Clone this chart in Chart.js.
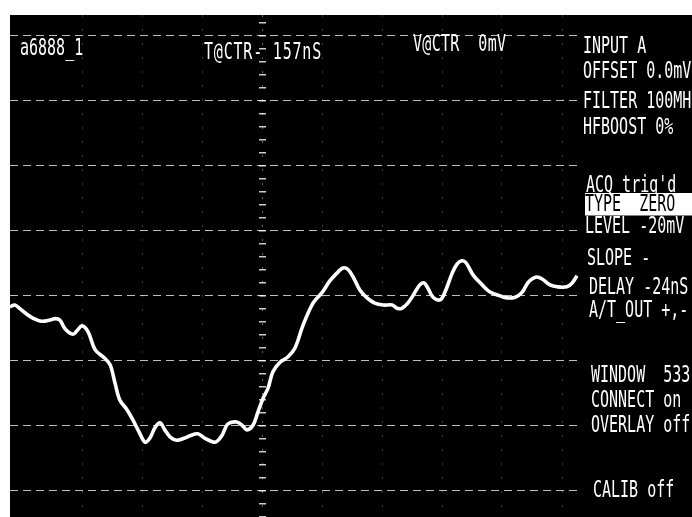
<!DOCTYPE html>
<html>
<head>
<meta charset="utf-8">
<script src="https://cdn.jsdelivr.net/npm/chart.js@4.4.1/dist/chart.umd.min.js"></script>
<style>
  html, body { margin:0; padding:0; background:#fff; width:692px; height:517px; overflow:hidden; }
  #screen { position:absolute; left:10px; top:15px; width:682px; height:502px; background:#000; overflow:hidden; }
  #plot { position:absolute; left:0; top:0; }
  .t { position:absolute; color:#fff; font-family:"DejaVu Sans Mono", monospace; font-size:15px; line-height:15px;
       white-space:pre; transform:scaleY(1.5); transform-origin:0 0; }
  .inv { background:#fff; color:#000; }
</style>
</head>
<body>
<div id="screen">
  <canvas id="plot" width="570" height="502"></canvas>
</div>
<script>
// Waveform (time in horizontal divisions from TCTR, amplitude in vertical divisions)
const timeDiv = [-4.20,-4.12,-4.03,-3.95,-3.82,-3.67,-3.53,-3.45,-3.37,-3.28,-3.15,-3.07,-3.00,-2.90,-2.78,-2.62,-2.53,-2.45,-2.37,-2.25,
  -2.15,-2.05,-1.95,-1.87,-1.78,-1.70,-1.62,-1.53,-1.42,-1.30,-1.20,-1.07,-0.95,-0.78,-0.67,-0.57,-0.42,-0.32,-0.25,-0.15,
  -0.07,0.02,0.10,0.18,0.30,0.43,0.55,0.68,0.85,1.00,1.13,1.27,1.35,1.43,1.52,1.63,1.75,1.88,2.02,2.17,
  2.25,2.33,2.43,2.52,2.63,2.70,2.77,2.85,2.97,3.05,3.17,3.25,3.33,3.40,3.52,3.67,3.80,3.97,4.08,4.22,
  4.33,4.43,4.50,4.58,4.67,4.80,4.92,5.08,5.17,5.25];
const voltDiv = [-0.18,-0.15,-0.21,-0.27,-0.35,-0.40,-0.38,-0.36,-0.38,-0.52,-0.60,-0.53,-0.47,-0.56,-0.84,-0.97,-1.07,-1.35,-1.61,-1.76,
  -1.92,-2.10,-2.26,-2.20,-2.03,-1.96,-2.07,-2.18,-2.23,-2.20,-2.16,-2.13,-2.20,-2.26,-2.16,-1.98,-1.95,-2.01,-2.07,-2.00,
  -1.80,-1.58,-1.43,-1.18,-1.03,-0.95,-0.81,-0.47,-0.12,0.04,0.22,0.36,0.42,0.40,0.28,0.08,-0.04,-0.12,-0.15,-0.15,
  -0.20,-0.20,-0.12,0.00,0.16,0.19,0.10,-0.03,-0.07,0.05,0.34,0.48,0.53,0.50,0.31,0.16,0.05,-0.01,-0.04,-0.03,
  0.04,0.19,0.25,0.28,0.25,0.16,0.13,0.13,0.19,0.30];

// Axis extents (divisions) and graticule
const xRange = [-4.2, 5.3];
const yRange = [-3.41, 4.31];
const xGridDivs = [-3, -2, -1, 0, 1, 2, 3, 4, 5];
const yGridDivs = [-3, -2, -1, 0, 1, 2, 3, 4];
const centerMinorStep = 0.2;

// Screen annotations
const headerTexts = ["a6888_1", "T@CTR- 157nS", "V@CTR  0mV"];
const sideTexts = ["INPUT A", "OFFSET 0.0mV", "FILTER 100MHz", "HFBOOST 0%", "ACQ trig'd", "TYPE  ZERO",
  "LEVEL -20mV", "SLOPE -", "DELAY -24nS", "A/T_OUT +,-", "WINDOW  533", "CONNECT on", "OVERLAY off", "CALIB off"];

// layout of the annotations (screen-relative px)
const headerPos = [[10, 22, 0], [194, 26, 0.8], [403, 18, 0.3]];
const sidePos = [[573,20],[573,45],[573,75],[573,101],[576,159],[575,178],[575,200],[577,232],[579,261],[579,284],[581,349],[581,374],[581,399],[583,464]];

const screen = document.getElementById('screen');
headerTexts.forEach((s, i) => {
  const d = document.createElement('div');
  d.className = 't'; d.textContent = s;
  d.style.left = headerPos[i][0] + 'px'; d.style.top = headerPos[i][1] + 'px';
  d.style.letterSpacing = headerPos[i][2] + 'px';
  screen.appendChild(d);
});
sideTexts.forEach((s, i) => {
  const d = document.createElement('div');
  d.className = 't' + (i === 5 ? ' inv' : ''); d.textContent = s;
  d.style.left = sidePos[i][0] + 'px'; d.style.top = sidePos[i][1] + 'px';
  if (i === 5) { d.style.width = '120px'; }
  screen.appendChild(d);
});

const centerTicks = {
  id: 'centerTicks',
  beforeDatasetsDraw(chart) {
    const { ctx, scales: { x, y } } = chart;
    const cx = x.getPixelForValue(0);
    ctx.save();
    ctx.fillStyle = 'rgba(255,255,255,0.8)';
    for (let v = Math.ceil(y.min / centerMinorStep) * centerMinorStep; v <= y.max; v += centerMinorStep) {
      const py = y.getPixelForValue(v);
      ctx.fillRect(cx - 3, Math.round(py), 7, 1.5);
    }
    ctx.restore();
  }
};

new Chart(document.getElementById('plot'), {
  type: 'line',
  data: {
    datasets: [{
      data: timeDiv.map((t, i) => ({ x: t, y: voltDiv[i] })),
      borderColor: '#ffffff',
      borderWidth: 3.6,
      pointRadius: 0,
      tension: 0.35,
      fill: false
    }]
  },
  options: {
    responsive: false,
    animation: false,
    devicePixelRatio: 1,
    layout: { padding: 0 },
    plugins: { legend: { display: false }, tooltip: { enabled: false } },
    scales: {
      x: {
        type: 'linear', min: xRange[0], max: xRange[1],
        afterBuildTicks: (s) => { s.ticks = xGridDivs.map(v => ({ value: v })); },
        ticks: { display: false },
        grid: { drawTicks: false, tickLength: 0, lineWidth: 1,
                color: (c) => c.tick && c.tick.value === 0 ? 'rgba(255,255,255,0.4)' : 'rgba(255,255,255,0.22)' },
        border: { display: false, dash: [2, 12] }
      },
      y: {
        type: 'linear', min: yRange[0], max: yRange[1],
        afterBuildTicks: (s) => { s.ticks = yGridDivs.map(v => ({ value: v })); },
        ticks: { display: false },
        grid: { drawTicks: false, tickLength: 0, lineWidth: 1, color: 'rgba(255,255,255,0.75)' },
        border: { display: false, dash: [8, 5] }
      }
    }
  },
  plugins: [centerTicks]
});
</script>
</body>
</html>
